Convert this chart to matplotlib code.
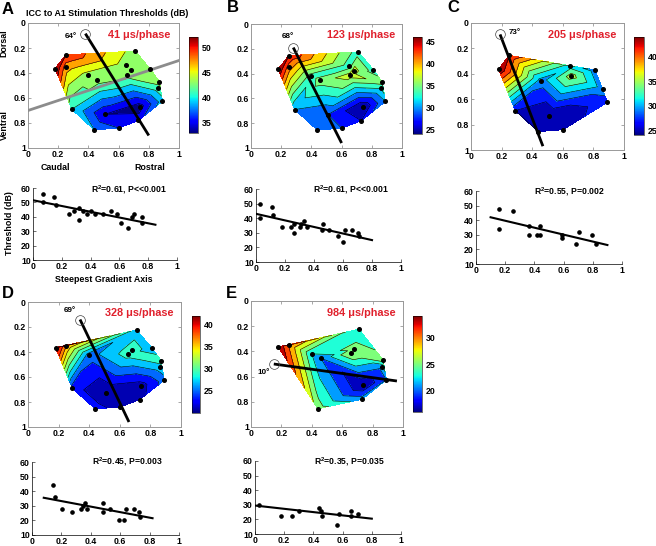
import numpy as np
import matplotlib
matplotlib.use("Agg")
import matplotlib.pyplot as plt
from matplotlib import cm
from matplotlib.colors import Normalize

W, H = 656, 546
plt.rcParams['font.family'] = ['Liberation Sans', 'DejaVu Sans']
plt.rcParams['font.weight'] = 'bold'
plt.rcParams['mathtext.fontset'] = 'custom'
plt.rcParams['mathtext.bf'] = 'Liberation Sans:bold'
plt.rcParams['mathtext.rm'] = 'Liberation Sans:bold'

# recording sites, normalised position on the map
site_x = np.array([.18, .25, .25, .40, .46, .65, .68, .655, .71, .81, .87, .86, .89, .74, .51, .29, .44, .60, .73])
site_y = np.array([.365, .255, .35, .42, .455, .34, .38, .415, .225, .37, .47, .52, .625, .67, .73, .69, .855, .84, .78])

# sites used per panel + threshold at each one
sites_a = list(range(19))
sites_b = list(range(19))
sites_c = [0, 1, 4, 5, 7, 9, 11, 12, 14, 15, 16, 17]
sites_d = [0, 2, 3, 6, 7, 8, 9, 10, 11, 12, 13, 14, 15, 16, 17, 18]
sites_e = [0, 2, 3, 4, 6, 7, 8, 10, 11, 12, 13, 16, 18]

thr_a = [52, 50, 47, 43, 43, 43, 43, 43, 43, 43, 43, 41, 39, 33, 34, 40, 38, 36, 35]
thr_b = [46, 44, 41, 33, 35, 33, 37, 37, 33, 33, 35, 32, 30, 24, 28, 30, 29, 28, 26]
thr_c = [44, 42, 29, 31, 35, 29, 29, 27, 24, 26, 26, 25]
thr_d = [42, 36, 25, 29, 29, 27, 27, 29, 27, 25, 21, 20, 23, 23, 21, 21]
thr_e = [34, 30, 22, 20, 25, 26, 22, 25, 20.5, 20, 16, 25, 21]

# threshold vs position along the gradient axis
pos_a = [.07, .07, .145, .16, .25, .285, .32, .32, .35, .375, .40, .43, .485, .54, .58, .61, .66, .69, .70, .755, .76]
val_a = [56, 50, 54, 48, 42, 44, 46, 38, 44, 42, 44, 42, 42, 44, 42, 36, 32, 40, 42, 36, 40]
pos_b = [.03, .03, .11, .12, .18, .24, .26, .26, .30, .31, .33, .35, .455, .46, .505, .565, .60, .615, .66, .70, .71]
val_b = [50, 40, 48, 42, 34, 34, 36, 30, 34, 36, 38, 34, 32, 36, 32, 28, 24, 32, 32, 30, 28]
pos_c = [.16, .16, .25, .36, .36, .415, .435, .44, .59, .59, .685, .705, .795, .825]
val_c = [48, 34, 46, 36, 30, 30, 36, 30, 30, 28, 24, 32, 30, 24]
pos_d = [.145, .155, .205, .27, .33, .35, .36, .375, .485, .485, .53, .595, .625, .64, .695, .725, .735]
val_d = [44, 36, 28, 26, 28, 30, 32, 28, 32, 26, 28, 20, 20, 28, 28, 26, 22]
pos_e = [.03, .18, .255, .30, .435, .45, .46, .56, .575, .655, .655, .705]
val_e = [30, 22, 22, 26, 28, 26, 22, 16, 24, 26, 22, 24]

# fit lines and gradient axes
fit_x = [[0, .85], [0, .80], [.10, .90], [.08, .82], [0, .80]]
fit_y = [[51.5, 34.5], [43, 25], [42, 23], [35.5, 21.5], [29.5, 20.5]]
axis_x = [[.38, .80], [.28, .60], [.19, .47], [.34, .66], [.15, .96]]
axis_y = [[.085, .90], [.19, .96], [.09, .97], [.14, .96], [.50, .635]]

letters = ['A', 'B', 'C', 'D', 'E']
phase = [41, 123, 205, 328, 984]
angles = [64, 68, 73, 69, 10]
stats = ['=0.61, P<<0.001', '=0.61, P<<0.001', '=0.55, P=0.002', '=0.45, P=0.003', '=0.35, P=0.035']
cbar_lim = [(33, 52), (24, 46), (24, 44), (20, 42), (16, 34)]
cbar_ticks = [[35, 40, 45, 50], [25, 30, 35, 40, 45], [25, 30, 35, 40], [25, 30, 35, 40], [20, 25, 30]]
map_sites = [sites_a, sites_b, sites_c, sites_d, sites_e]
map_thr = [thr_a, thr_b, thr_c, thr_d, thr_e]
pos_all = [pos_a, pos_b, pos_c, pos_d, pos_e]
val_all = [val_a, val_b, val_c, val_d, val_e]

# pixel boxes (left, right, top, bottom)
map_box = [(28, 179, 23, 148), (251, 402, 24, 148), (471, 624, 23, 150), (28, 181, 302, 427), (251, 403, 301, 427)]
bar_box = [(189, 198, 37, 133), (413, 422, 37, 134), (634, 644, 37, 135), (192, 200, 316, 413), (413, 422, 316, 412)]
sc_box = [(33, 177, 188, 260), (256, 401, 189, 262), (476, 622, 191, 264), (32, 179, 462, 535), (255, 401, 461, 534)]
letter_xy = [(2, 9), (227, 8), (447, 8), (2, 294), (226, 294)]
phase_xy = [(139, 35), (361, 35), (582, 35), (139, 313), (361, 313)]
angle_xy = [(71, 37), (288, 37), (515, 33), (70, 311), (264, 372)]
stat_xy = [(91, 190), (313, 190), (534, 192), (92, 462), (314, 462)]


def axes_px(box):
    l, r, t, b = box
    return fig.add_axes([l / W, 1 - b / H, (r - l) / W, (b - t) / H])


def text_px(x, y, s, **kw):
    kw.setdefault('ha', 'center')
    kw.setdefault('va', 'center')
    kw.setdefault('fontsize', 6.4)
    fig.text(x / W, 1 - y / H, s, **kw)


fig = plt.figure(figsize=(W / 100, H / 100), dpi=100)
ticks = [0, .2, .4, .6, .8, 1]
ticklabs = ['0', '0.2', '0.4', '0.6', '0.8', '1']

for i in range(5):
    ax = axes_px(map_box[i])
    idx = map_sites[i]
    x, y, z = site_x[idx], site_y[idx], np.array(map_thr[i], float)
    lo, hi = cbar_lim[i]
    norm = Normalize(lo, hi)
    # contours every 2 dB on even values
    levels = np.arange(lo + lo % 2, hi + 2, 2)
    ax.tricontourf(x, y, z, levels=levels, cmap='jet', norm=norm, extend='both')
    ax.tricontour(x, y, z, levels=levels, colors='k', linewidths=0.4)
    if i == 0:
        ax.plot([0, 1], [.7, .3], color='#8c8c8c', lw=2, zorder=4)
    ax.plot(axis_x[i], axis_y[i], color='k', lw=2, zorder=5, solid_capstyle='butt')
    ax.plot(axis_x[i][0], axis_y[i][0], 'o', ms=7, mfc='none', mec='#444444', mew=0.5, zorder=6)
    ax.plot(x, y, 'o', color='k', ms=2.6, zorder=7)
    ax.set_xlim(0, 1)
    ax.set_ylim(1, 0)
    ax.set_xticks(ticks, ticklabs)
    ax.set_yticks(ticks, ticklabs)
    ax.tick_params(length=2, width=0.4, direction='in', labelsize=6.3, pad=1.5, color='#666666',
                   top=True, right=True)
    for s in ax.spines.values():
        s.set_linewidth(0.7)
        s.set_color('#999999')

    cax = axes_px(bar_box[i])
    sm = cm.ScalarMappable(norm=norm, cmap='jet')
    cb = fig.colorbar(sm, cax=cax)
    cb.set_ticks(cbar_ticks[i])
    cb.ax.tick_params(length=0, labelsize=6.3, pad=2.5)
    cb.outline.set_linewidth(0.4)

    sx = axes_px(sc_box[i])
    sx.plot(pos_all[i], val_all[i], 'o', color='k', ms=2.3)
    sx.plot(fit_x[i], fit_y[i], color='k', lw=1.5)
    sx.set_xlim(0, 1)
    sx.set_ylim(10, 60)
    sx.set_xticks(ticks, ticklabs)
    sx.set_yticks([10, 20, 30, 40, 50, 60])
    sx.tick_params(length=2, width=0.4, direction='in', labelsize=6.3, pad=1.5)
    sx.spines['top'].set_visible(False)
    sx.spines['right'].set_visible(False)
    sx.spines['left'].set_linewidth(0.5)
    sx.spines['bottom'].set_linewidth(0.5)

    text_px(*letter_xy[i], letters[i], fontsize=12, ha='left')
    text_px(*phase_xy[i], f'{phase[i]} μs/phase', color='#e0202c', fontsize=7.8)
    text_px(*angle_xy[i], f'{angles[i]}°', fontsize=5.8)
    text_px(*stat_xy[i], r'$\mathbf{R^2}$' + stats[i], ha='left', fontsize=6.2)

text_px(107, 13, 'ICC to A1 Stimulation Thresholds (dB)')
text_px(55, 167, 'Caudal')
text_px(150, 167, 'Rostral')
text_px(4, 43, 'Dorsal', rotation=90)
text_px(4, 125, 'Ventral', rotation=90)
text_px(10, 223, 'Threshold (dB)', rotation=90)
text_px(104, 279, 'Steepest Gradient Axis')

fig.savefig('out.png', dpi=100)
